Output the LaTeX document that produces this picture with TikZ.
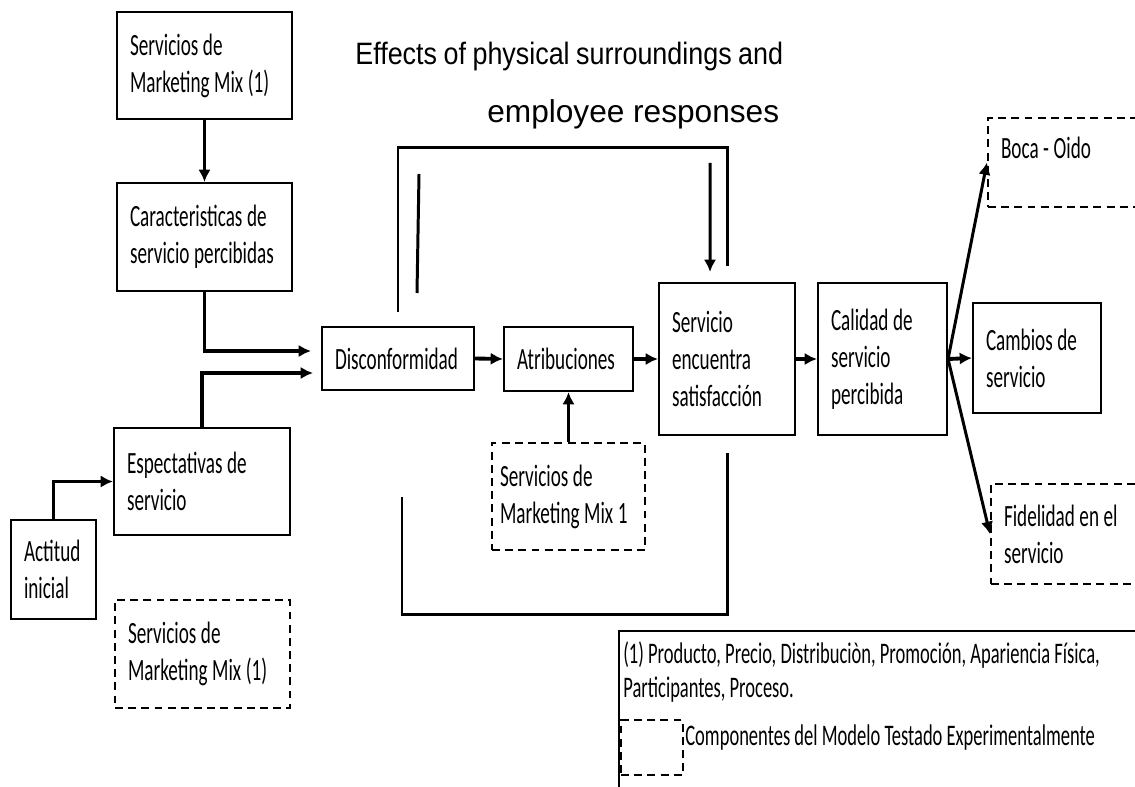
\documentclass[tikz,border=0pt]{standalone}
\usepackage{fontspec}
\setmainfont{Carlito}[FakeStretch=0.62]
\newfontfamily\titlefont{Liberation Sans}
\newfontfamily\titlenarrow{Liberation Sans}[FakeStretch=0.87, WordSpace=0.87]
\usetikzlibrary{arrows.meta}

\begin{document}
\begin{tikzpicture}[x=0.02cm, y=-0.02cm,
  every node/.style={font=\fontsize{17.6pt}{21pt}\selectfont},
  box/.style={draw, line width=1.2pt, align=left, inner xsep=0.26cm, inner ysep=0pt,
    execute at begin node={\spaceskip=2.6pt\relax}},
  testbox/.style={box, dash pattern=on 4.5pt off 3pt},
  link/.style={line width=1.7pt},
  arrow/.style={link, -{Latex[length=7pt, width=7pt]}},
  title/.style={font=\titlefont\fontsize{18pt}{21pt}\selectfont, anchor=base west, inner sep=0pt},
  legtext/.style={font=\fontsize{17pt}{21pt}\selectfont, anchor=base west, inner sep=0pt}
]
  \clip (0,0) rectangle (1135,787);

  \node[title, font=\titlenarrow\fontsize{17.6pt}{21pt}\selectfont] (title1) at (355,65) {Effects of physical surroundings and};
  \node[title] (title2) at (487,123) {employee responses};

  \node[box, text width=2.98cm, minimum height=2.14cm] (mmtop) at (204.5,65.5) {Servicios de\\Marketing Mix (1)};
  \node[box, text width=2.98cm, minimum height=2.16cm] (carac) at (204.5,237) {Caracteristicas de\\servicio percibidas};
  \node[box, text width=3.0cm, minimum height=2.14cm] (espec) at (202,481.5) {Espectativas de\\servicio};
  \node[box, text width=1.18cm, minimum height=1.98cm] (actitud) at (53.5,569.5) {Actitud\\inicial};
  \node[testbox, text width=2.98cm, minimum height=2.16cm] (mmleg) at (202.5,654) {Servicios de\\Marketing Mix (1)};

  \node[box, text width=2.52cm, minimum height=1.26cm] (disc) at (398,358.5) {Disconformidad};
  \node[box, text width=2.06cm, minimum height=1.28cm] (atrib) at (568.5,359) {Atribuciones};
  \node[testbox, text width=2.74cm, inner xsep=0.16cm, minimum height=2.14cm] (mmatr) at (568.5,496.5) {Servicios de\\Marketing Mix 1};
  \node[box, text width=2.2cm, minimum height=3.04cm] (serv) at (727,359) {Servicio\\encuentra\\satisfacción};
  \node[box, text width=2.06cm, minimum height=3.04cm] (calidad) at (882.5,359) {Calidad de\\servicio\\percibida};
  \node[box, text width=2.04cm, minimum height=2.2cm] (cambios) at (1037,358) {Cambios de\\servicio};
  \node[testbox, text width=3.12cm, minimum height=1.78cm] (boca) at (1079,162.5) {Boca - Oido\\[-4pt]\mbox{}};
  \node[testbox, text width=3.08cm, minimum height=2.0cm] (fidel) at (1081,534) {Fidelidad en el\\servicio};

  \node[draw, line width=1.2pt, anchor=north west, minimum width=11cm, minimum height=4cm] (legend) at (618,630) {};
  \node[legtext] (legtxt1) at (623,663) {(1) Producto, Precio, Distribuciòn, Promoción, Apariencia Física,};
  \node[legtext] (legtxt2) at (623,697) {Participantes, Proceso.};
  \node[testbox, anchor=north west, minimum width=1.24cm, minimum height=1.1cm, inner sep=0pt] (legkey) at (620,719) {};
  \node[legtext] (legtxt3) at (685,745) {Componentes del Modelo Testado Experimentalmente};

  \draw[arrow, line width=1.3pt] (mmtop) -- (carac);
  \draw[arrow, line width=2pt] (carac.south) |- ([xshift=-0.2cm, yshift=0.15cm]disc.west);
  \draw[arrow, line width=2pt] (espec.north) |- ([xshift=-0.16cm, yshift=-0.29cm]disc.west);
  \draw[arrow, line width=2pt] (actitud.north) |- (espec.west);
  \draw[arrow, line width=2.2pt] (disc.east) -- (atrib.west);
  \draw[arrow, line width=2.2pt] (atrib.east) -- (serv.west);
  \draw[arrow, line width=2.2pt] (serv.east) -- (calidad.west);
  \draw[arrow, line width=2.2pt] (calidad.east) -- (cambios.west);
  \draw[arrow] (calidad.east) -- (boca.west);
  \draw[arrow] (calidad.east) -- (fidel.west);
  \draw[arrow] (mmatr.north) -- (atrib.south);

  \draw[link] ([yshift=0.28cm]disc.north) -- ++(0,-164) -| ([yshift=0.32cm]serv.north);
  \coordinate (fbtop) at (710,163);
  \draw[arrow] (fbtop) -- ([xshift=-0.34cm, yshift=0.2cm]serv.north);
  \coordinate (stubtop) at (419,174);
  \coordinate (stubbot) at (417,293);
  \draw[link] (stubtop) -- (stubbot);
  \draw[link] ([xshift=0.08cm, yshift=-2.12cm]disc.south) -- ++(0,117) -| ([yshift=-0.34cm]serv.south);
\end{tikzpicture}
\end{document}
